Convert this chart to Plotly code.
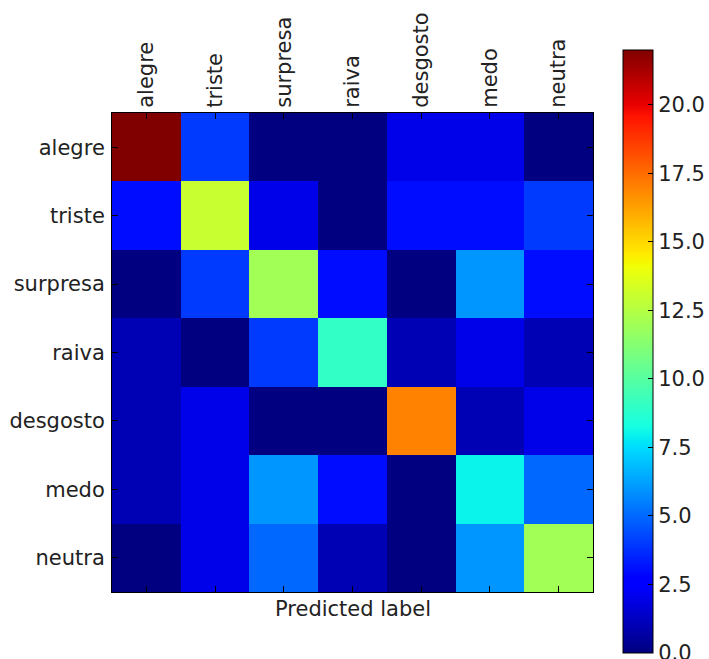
import plotly.graph_objects as go

labels = ["alegre", "triste", "surpresa", "raiva", "desgosto", "medo", "neutra"]
# rows = true label, columns = predicted label
row_alegre   = [22, 4, 0, 0, 2, 2, 0]
row_triste   = [3, 13, 2, 0, 3, 3, 4]
row_surpresa = [0, 4, 12, 3, 0, 6, 3]
row_raiva    = [1, 0, 4, 9, 1, 2, 1]
row_desgosto = [1, 2, 0, 0, 17, 1, 2]
row_medo     = [1, 2, 6, 3, 0, 8, 5]
row_neutra   = [0, 2, 5, 1, 0, 6, 12]
matrix = [row_alegre, row_triste, row_surpresa, row_raiva, row_desgosto, row_medo, row_neutra]
cbar_ticks = [0, 2.5, 5, 7.5, 10, 12.5, 15, 17.5, 20]

# matplotlib 'jet'
jet = [
    [0.0, "rgb(0,0,128)"], [0.11, "rgb(0,0,255)"], [0.125, "rgb(0,0,255)"],
    [0.34, "rgb(0,219,255)"], [0.35, "rgb(0,230,247)"], [0.375, "rgb(21,255,226)"],
    [0.64, "rgb(239,255,8)"], [0.65, "rgb(247,246,0)"], [0.66, "rgb(255,236,0)"],
    [0.89, "rgb(255,19,0)"], [0.91, "rgb(232,0,0)"], [1.0, "rgb(128,0,0)"],
]

W, H = 709, 659
L, R, T, B = 112, 593, 113, 592
font = "DejaVu Sans"
fs = 21

fig = go.Figure(go.Heatmap(
    z=matrix, x=labels, y=labels, colorscale=jet, zmin=0, zmax=22,
    colorbar=dict(
        x=(623 - L) / (R - L), xanchor="left", xref="paper", xpad=0, ypad=0,
        y=(B - 351.5) / (B - T), yanchor="middle",
        thickness=30, thicknessmode="pixels", len=603, lenmode="pixels",
        outlinecolor="black", outlinewidth=1,
        tickvals=cbar_ticks, tickformat=".1f", ticks="inside", ticklen=5,
        ticklabeloverflow="allow",
        tickcolor="black", tickfont=dict(family=font, size=fs, color="#222"),
    ),
))

fig.update_layout(
    width=W, height=H,
    margin=dict(l=L, r=W - R, t=T, b=H - B, pad=0, autoexpand=False),
    paper_bgcolor="white", plot_bgcolor="white",
    font=dict(family=font, size=fs, color="#222"),
    xaxis=dict(side="top", tickangle=-90, ticks="inside", ticklen=6, tickcolor="black",
               showline=True, linecolor="black", linewidth=1, mirror="ticks",
               showgrid=False, zeroline=False, automargin=False,
               tickfont=dict(size=fs)),
    yaxis=dict(autorange="reversed", ticks="inside", ticklen=6, tickcolor="black",
               showline=True, linecolor="black", linewidth=1, mirror="ticks",
               showgrid=False, zeroline=False, automargin=False,
               ticklabelstandoff=2, tickfont=dict(size=fs)),
    annotations=[dict(text="Predicted label", xref="paper", yref="paper",
                      x=0.5, y=0, yshift=-3, xanchor="center", yanchor="top",
                      showarrow=False, font=dict(size=fs, family=font, color="#222"))],
)

fig.write_html("out.html", config={"displayModeBar": False},
               post_script="document.body.style.margin='0';document.body.style.padding='0';")
